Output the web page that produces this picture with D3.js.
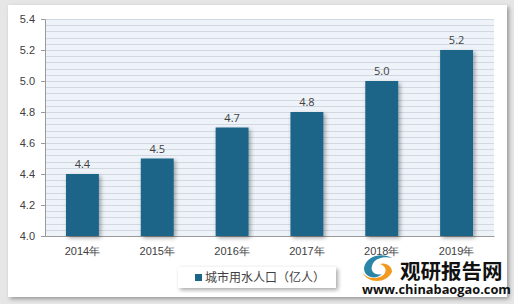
<!DOCTYPE html>
<html>
<head>
<meta charset="utf-8">
<script src="https://cdn.jsdelivr.net/npm/d3@7"></script>
<style>
    body { margin: 0; background: #e6e6e6; }
    svg { display: block; font-family: "Open Sans", "Noto Sans CJK SC", sans-serif; }
</style>
</head>
<body>
<script>
(function(){

    //chart data
    var years = ["2014年", "2015年", "2016年", "2017年", "2018年", "2019年"];
    var values = [4.4, 4.5, 4.7, 4.8, 5.0, 5.2];
    var yTicks = [4.0, 4.2, 4.4, 4.6, 4.8, 5.0, 5.2, 5.4];
    var seriesName = "城市用水人口（亿人）";

    var width = 514,
        height = 304;

    var svg = d3.select("body")
        .append("svg")
        .attr("width", width)
        .attr("height", height);

    var defs = svg.append("defs");

    //soft drop shadow for panel, bars and legend
    var shadow = defs.append("filter")
        .attr("id", "shadow")
        .attr("x", "-10%").attr("y", "-10%")
        .attr("width", "130%").attr("height", "130%");
    shadow.append("feGaussianBlur").attr("in", "SourceAlpha").attr("stdDeviation", 2);
    shadow.append("feOffset").attr("dx", 1.5).attr("dy", 1.5).attr("result", "ob");
    shadow.append("feComponentTransfer").append("feFuncA").attr("type", "linear").attr("slope", 0.35);
    var merge = shadow.append("feMerge");
    merge.append("feMergeNode");
    merge.append("feMergeNode").attr("in", "SourceGraphic");

    //outer white panel
    svg.append("rect")
        .attr("x", 8)
        .attr("y", 5)
        .attr("width", 499)
        .attr("height", 292)
        .attr("fill", "#ffffff")
        .attr("filter", "url(#shadow)");

    //plot area
    var left = 45, right = 494, top = 19, bottom = 236;

    var x = d3.scaleBand()
        .domain(years)
        .range([left, right])
        .paddingInner(0.56)
        .paddingOuter(0.28);

    var y = d3.scaleLinear()
        .domain([4.0, 5.4])
        .range([bottom, top]);

    svg.append("rect")
        .attr("x", left)
        .attr("y", top)
        .attr("width", right - left)
        .attr("height", bottom - top)
        .attr("fill", "#eef3f9");

    //minor gridlines every 0.04
    var minor = d3.range(0, 36).map(function(i){ return 4.0 + i * 0.04; });
    svg.append("g")
        .selectAll("line")
        .data(minor)
        .enter()
        .append("line")
        .attr("x1", left)
        .attr("x2", right)
        .attr("y1", function(d){ return Math.round(y(d)) + 0.5; })
        .attr("y2", function(d){ return Math.round(y(d)) + 0.5; })
        .attr("stroke", "#d2d8df")
        .attr("stroke-width", 1);

    //y axis
    var yAxis = d3.axisLeft(y)
        .tickValues(yTicks)
        .tickFormat(d3.format(".1f"))
        .tickSize(4)
        .tickPadding(6);

    var yg = svg.append("g")
        .attr("transform", "translate(" + left + ",0)")
        .call(yAxis);
    yg.select(".domain").attr("stroke", "#9a9a9a");
    yg.selectAll(".tick line").attr("stroke", "#9a9a9a");
    yg.selectAll("text")
        .attr("fill", "#404040")
        .style("font-size", "11px");

    //x axis
    var xAxis = d3.axisBottom(x)
        .tickSize(0)
        .tickPadding(11);

    var xg = svg.append("g")
        .attr("transform", "translate(0," + bottom + ")")
        .call(xAxis);
    xg.select(".domain").attr("stroke", "#9a9a9a");
    xg.selectAll("text")
        .attr("fill", "#404040")
        .style("font-size", "11px");

    //bars
    svg.selectAll(".bar")
        .data(values)
        .enter()
        .append("rect")
        .attr("class", "bar")
        .attr("x", function(d, i){ return x(years[i]); })
        .attr("width", x.bandwidth())
        .attr("y", function(d){ return y(d); })
        .attr("height", function(d){ return bottom - y(d); })
        .attr("fill", "#1b6588")
        .attr("filter", "url(#shadow)");

    //value labels
    svg.selectAll(".label")
        .data(values)
        .enter()
        .append("text")
        .attr("class", "label")
        .attr("x", function(d, i){ return x(years[i]) + x.bandwidth() / 2; })
        .attr("y", function(d){ return y(d) - 6; })
        .attr("text-anchor", "middle")
        .attr("fill", "#404040")
        .style("font-size", "11px")
        .text(function(d){ return d3.format(".1f")(d); });

    //legend
    var legend = svg.append("g")
        .attr("transform", "translate(178,267)");
    legend.append("rect")
        .attr("width", 158)
        .attr("height", 21)
        .attr("fill", "#ffffff")
        .attr("filter", "url(#shadow)");
    legend.append("rect")
        .attr("x", 17)
        .attr("y", 7)
        .attr("width", 7)
        .attr("height", 7)
        .attr("fill", "#1b6588");
    legend.append("text")
        .attr("x", 27)
        .attr("y", 15)
        .attr("fill", "#404040")
        .style("font-size", "12px")
        .style("font-family", "'Noto Sans CJK SC', sans-serif")
        .text(seriesName);

    //watermark
    var mark = svg.append("g");
    mark.append("path")
        .attr("d", "M364,268 C366,256 382,252 392,258 C384,256 374,258 372,266 C370,272 376,276 382,274 C376,280 364,278 364,268 Z")
        .attr("fill", "#2a86a6");
    mark.append("path")
        .attr("d", "M362,272 C368,284 386,284 392,272 C392,266 386,262 380,264 C386,266 388,272 382,276 C374,280 366,278 362,272 Z")
        .attr("fill", "#f29a1f");
    mark.append("text")
        .attr("x", 400)
        .attr("y", 279)
        .attr("fill", "#111111")
        .style("font-size", "20.5px")
        .style("font-weight", "bold")
        .style("font-family", "'Noto Sans CJK SC', sans-serif")
        .text("观研报告网");
    mark.append("text")
        .attr("x", 362)
        .attr("y", 294)
        .attr("fill", "#111111")
        .style("font-size", "12.8px")
        .style("font-weight", "bold")
        .style("font-family", "'Open Sans', sans-serif")
        .text("www.chinabaogao.com");

})();
</script>
</body>
</html>
